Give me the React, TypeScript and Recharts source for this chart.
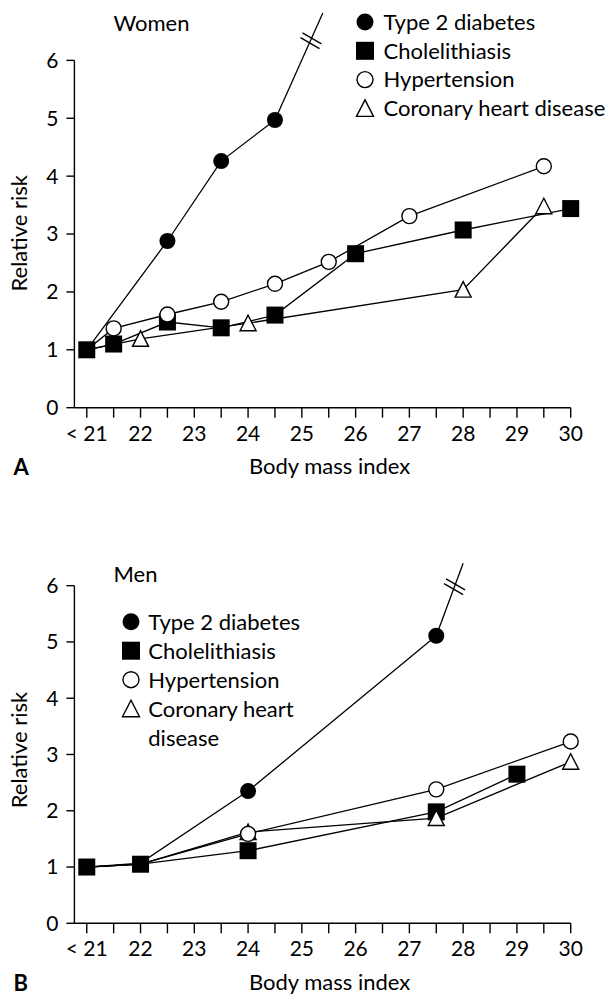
import React from 'react';
import { LineChart, Line, XAxis, YAxis, ReferenceLine, ReferenceDot, Label } from 'recharts';

const FONT = 'Lato, "Open Sans", sans-serif';
const INK = '#000';

// x axis: a tick every half BMI unit, labels on the whole units
const BMI_TICKS = [21, 21.5, 22, 22.5, 23, 23.5, 24, 24.5, 25, 25.5, 26, 26.5, 27, 27.5, 28, 28.5, 29, 29.5, 30];
const BMI_LABELS = ['< 21', '22', '23', '24', '25', '26', '27', '28', '29', '30'];
const BMI_MIN = 20.77;
const BMI_MAX = 30;
const RISK_TICKS = [0, 1, 2, 3, 4, 5, 6];
const RISK_MAX = 7;

const SERIES = ['Type 2 diabetes', 'Cholelithiasis', 'Hypertension', 'Coronary heart disease'];
const SERIES_WRAPPED = ['Type 2 diabetes', 'Cholelithiasis', 'Hypertension', 'Coronary heart\ndisease'];
const MARKERS = ['disc', 'square', 'ring', 'triangle'];

type Pt = { bmi: number; rr: number };

// ── Women ──
const WOMEN_DIABETES: Pt[] = [
  { bmi: 21, rr: 1.0 }, { bmi: 22.5, rr: 2.88 }, { bmi: 23.5, rr: 4.26 }, { bmi: 24.5, rr: 4.97 },
];
const WOMEN_DIABETES_OFFSCALE: Pt = { bmi: 25.39, rr: 6.82 }; // line runs off the scale
const WOMEN_DIABETES_BREAK: Pt = { bmi: 25.17, rr: 6.34 };
const WOMEN_CHOLE: Pt[] = [
  { bmi: 21, rr: 1.0 }, { bmi: 21.5, rr: 1.1 }, { bmi: 22.5, rr: 1.48 }, { bmi: 23.5, rr: 1.38 },
  { bmi: 24.5, rr: 1.6 }, { bmi: 26, rr: 2.66 }, { bmi: 28, rr: 3.07 }, { bmi: 30, rr: 3.44 },
];
const WOMEN_HYPER: Pt[] = [
  { bmi: 21, rr: 1.0 }, { bmi: 21.5, rr: 1.37 }, { bmi: 22.5, rr: 1.61 }, { bmi: 23.5, rr: 1.83 },
  { bmi: 24.5, rr: 2.14 }, { bmi: 25.5, rr: 2.52 }, { bmi: 27, rr: 3.31 }, { bmi: 29.5, rr: 4.17 },
];
const WOMEN_CHD: Pt[] = [
  { bmi: 21, rr: 1.0 }, { bmi: 22, rr: 1.19 }, { bmi: 24, rr: 1.46 }, { bmi: 28, rr: 2.04 }, { bmi: 29.5, rr: 3.48 },
];
const WOMEN_SHARED = [21]; // reference category: only the square is drawn

// ── Men ──
const MEN_DIABETES: Pt[] = [
  { bmi: 21, rr: 1.0 }, { bmi: 22, rr: 1.07 }, { bmi: 24, rr: 2.35 }, { bmi: 27.5, rr: 5.11 },
];
const MEN_DIABETES_OFFSCALE: Pt = { bmi: 28.0, rr: 6.4 };
const MEN_DIABETES_BREAK: Pt = { bmi: 27.84, rr: 5.98 };
const MEN_CHOLE: Pt[] = [
  { bmi: 21, rr: 1.0 }, { bmi: 22, rr: 1.05 }, { bmi: 24, rr: 1.29 }, { bmi: 27.5, rr: 1.98 }, { bmi: 29, rr: 2.65 },
];
const MEN_HYPER: Pt[] = [
  { bmi: 21, rr: 1.0 }, { bmi: 22, rr: 1.05 }, { bmi: 24, rr: 1.59 }, { bmi: 27.5, rr: 2.38 }, { bmi: 30, rr: 3.23 },
];
const MEN_CHD: Pt[] = [
  { bmi: 21, rr: 1.0 }, { bmi: 22, rr: 1.05 }, { bmi: 24, rr: 1.62 }, { bmi: 27.5, rr: 1.87 }, { bmi: 30, rr: 2.87 },
];
const MEN_SHARED = [21, 22];

const TICK = { fill: INK, fontSize: 21, fontFamily: FONT };
const AXIS = { stroke: INK, strokeWidth: 1.4 };
const TEXT_SIZE = 22;

function Marker({ kind, cx, cy, size = 17 }: { kind: string; cx: number; cy: number; size?: number }) {
  const h = size / 2;
  if (kind === 'disc') return <circle cx={cx} cy={cy} r={h - 0.5} fill={INK} />;
  if (kind === 'square') return <rect x={cx - h} y={cy - h} width={size} height={size} fill={INK} />;
  if (kind === 'ring') return <circle cx={cx} cy={cy} r={h - 1} fill="#fff" stroke={INK} strokeWidth={1.4} />;
  return (
    <polygon
      points={`${cx},${cy - h + 0.5} ${cx - h + 0.5},${cy + h - 1} ${cx + h - 0.5},${cy + h - 1}`}
      fill="#fff"
      stroke={INK}
      strokeWidth={1.4}
    />
  );
}

function makeDot(kind: string, shared: number[]) {
  return (props: any) => {
    const { cx, cy, index, payload } = props;
    const key = `${kind}-${index}`;
    if (cx == null || cy == null) return <g key={key} />;
    if (kind !== 'square' && shared.includes(payload.bmi)) return <g key={key} />;
    return <Marker key={key} kind={kind} cx={cx} cy={cy} />;
  };
}

// two short parallel strokes across the line where it leaves the scale
function BreakMark(props: any) {
  const { cx, cy } = props;
  const ux = 0.866, uy = 0.5; // stroke direction
  const vx = 0.38, vy = -0.925; // along the data line
  const half = 11, gap = 2.6;
  return (
    <g stroke={INK} strokeWidth={1.4}>
      {[-gap, gap].map((g) => (
        <line
          key={g}
          x1={cx + vx * g - ux * half}
          y1={cy + vy * g - uy * half}
          x2={cx + vx * g + ux * half}
          y2={cy + vy * g + uy * half}
        />
      ))}
    </g>
  );
}

function Legend({ x, textX, y0, step, labels }: { x: number; textX: number; y0: number; step: number; labels: string[] }) {
  let row = 0;
  return (
    <g>
      {labels.map((label, i) => {
        const lines = label.split('\n');
        const y = y0 + row * step;
        row += lines.length;
        return (
          <g key={label}>
            <Marker kind={MARKERS[i]} cx={x} cy={y} size={18} />
            <text x={textX} y={y + 7.8} fontSize={TEXT_SIZE} fontFamily={FONT} fill={INK}>
              {lines.map((ln, j) => (
                <tspan key={j} x={textX} dy={j === 0 ? 0 : step}>{ln}</tspan>
              ))}
            </text>
          </g>
        );
      })}
    </g>
  );
}

function Panel(p: {
  top: number; height: number; plotTop: number; plotBottom: number;
  xLabelOffset: number; yLabelDy: number;
  diabetes: Pt[]; offscale: Pt; brk: Pt; chole: Pt[]; hyper: Pt[]; chd: Pt[]; shared: number[];
  title: string; titleY: number; letter: string; letterY: number;
  legend: { x: number; textX: number; y0: number; step: number; labels: string[] };
}) {
  const tail = [p.diabetes[p.diabetes.length - 1], p.offscale];
  return (
    <div style={{ position: 'absolute', left: 0, top: p.top, width: 613, height: p.height }}>
      <LineChart
        width={613}
        height={p.height}
        margin={{ top: p.plotTop, right: 613 - 570.7, bottom: 0, left: 0 }}
      >
        <XAxis
          type="number"
          dataKey="bmi"
          domain={[BMI_MIN, BMI_MAX]}
          ticks={BMI_TICKS}
          interval={0}
          tickFormatter={(v: number) => (Number.isInteger(v) ? BMI_LABELS[v - 21] : '')}
          tick={TICK}
          tickSize={10}
          tickMargin={8}
          axisLine={AXIS}
          tickLine={AXIS}
          height={p.height - p.plotBottom}
        >
          <Label
            value="Body mass index"
            position="insideBottom"
            offset={p.xLabelOffset}
            dx={7}
            style={{ fontSize: TEXT_SIZE, fontFamily: FONT, fill: INK }}
          />
        </XAxis>
        <YAxis
          type="number"
          dataKey="rr"
          domain={[0, RISK_MAX]}
          ticks={RISK_TICKS}
          interval={0}
          tick={TICK}
          tickSize={8}
          tickMargin={8}
          axisLine={false}
          tickLine={AXIS}
          width={74.4}
        >
          <Label
            value="Relative risk"
            angle={-90}
            position="center"
            dx={-18}
            dy={p.yLabelDy}
            style={{ fontSize: TEXT_SIZE, fontFamily: FONT, fill: INK, textAnchor: 'middle' }}
          />
        </YAxis>
        <ReferenceLine
          segment={[{ x: BMI_MIN, y: 0 }, { x: BMI_MIN, y: 6 }]}
          stroke={INK}
          strokeWidth={1.4}
          ifOverflow="visible"
        />
        <Line data={tail} dataKey="rr" name="tail" stroke={INK} strokeWidth={1.3} dot={false} activeDot={false} isAnimationActive={false} />
        <Line data={p.diabetes} dataKey="rr" name={SERIES[0]} stroke={INK} strokeWidth={1.3} dot={makeDot('disc', p.shared)} activeDot={false} isAnimationActive={false} />
        <Line data={p.chole} dataKey="rr" name={SERIES[1]} stroke={INK} strokeWidth={1.3} dot={makeDot('square', p.shared)} activeDot={false} isAnimationActive={false} />
        <Line data={p.chd} dataKey="rr" name={SERIES[3]} stroke={INK} strokeWidth={1.3} dot={makeDot('triangle', p.shared)} activeDot={false} isAnimationActive={false} />
        <Line data={p.hyper} dataKey="rr" name={SERIES[2]} stroke={INK} strokeWidth={1.3} dot={makeDot('ring', p.shared)} activeDot={false} isAnimationActive={false} />
        <ReferenceDot x={p.brk.bmi} y={p.brk.rr} ifOverflow="visible" shape={BreakMark} />
      </LineChart>
      <svg width={613} height={p.height} style={{ position: 'absolute', left: 0, top: 0, pointerEvents: 'none' }}>
        <text x={113.5} y={p.titleY} fontSize={TEXT_SIZE} fontFamily={FONT} fill={INK}>{p.title}</text>
        <text x={13.5} y={p.letterY} fontSize={22} fontWeight="bold" fontFamily={FONT} fill={INK}>{p.letter}</text>
        <Legend {...p.legend} />
      </svg>
    </div>
  );
}

export default function App() {
  return (
    <div style={{ position: 'absolute', left: 0, top: 0, width: 613, height: 996, background: '#fff' }}>
      <Panel
        top={0}
        height={490}
        plotTop={2.5}
        plotBottom={407.7}
        xLabelOffset={16.5}
        yLabelDy={28.2}
        diabetes={WOMEN_DIABETES}
        offscale={WOMEN_DIABETES_OFFSCALE}
        brk={WOMEN_DIABETES_BREAK}
        chole={WOMEN_CHOLE}
        hyper={WOMEN_HYPER}
        chd={WOMEN_CHD}
        shared={WOMEN_SHARED}
        title="Women"
        titleY={30.8}
        letter="A"
        letterY={475}
        legend={{ x: 365, textX: 383.5, y0: 22, step: 28.8, labels: SERIES }}
      />
      <Panel
        top={496}
        height={500}
        plotTop={33.4}
        plotBottom={427.3}
        xLabelOffset={6}
        yLabelDy={23.7}
        diabetes={MEN_DIABETES}
        offscale={MEN_DIABETES_OFFSCALE}
        brk={MEN_DIABETES_BREAK}
        chole={MEN_CHOLE}
        hyper={MEN_HYPER}
        chd={MEN_CHD}
        shared={MEN_SHARED}
        title="Men"
        titleY={85.8}
        letter="B"
        letterY={495}
        legend={{ x: 131, textX: 148.3, y0: 125.7, step: 29, labels: SERIES_WRAPPED }}
      />
    </div>
  );
}
